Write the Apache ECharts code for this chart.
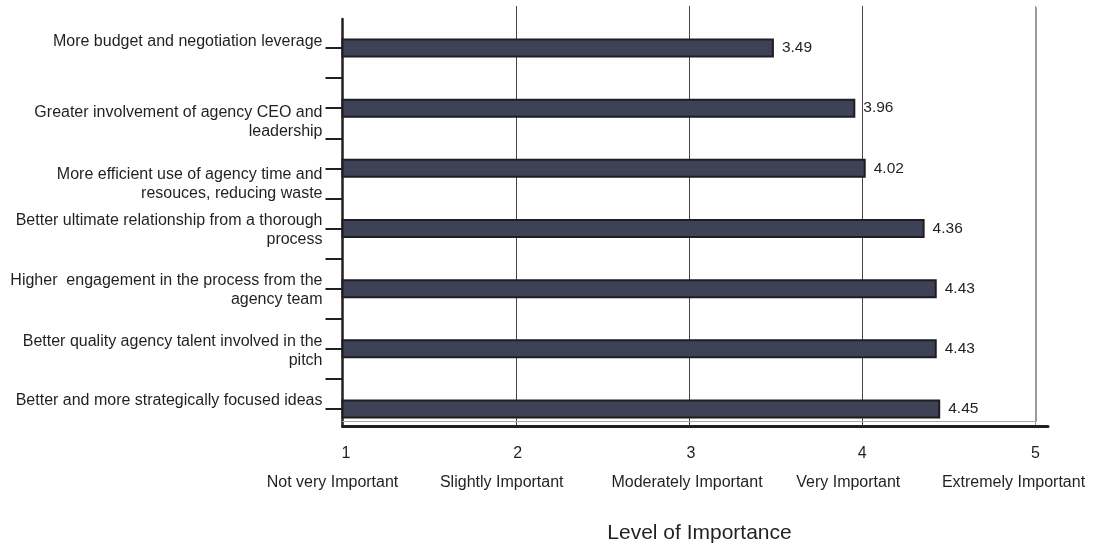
<!DOCTYPE html>
<html>
<head>
<meta charset="utf-8">
<script src="https://cdn.jsdelivr.net/npm/echarts@6/dist/echarts.min.js"></script>
<style>
  html, body { margin: 0; padding: 0; background: #ffffff; }
  #chart { width: 1097px; height: 546px; }
</style>
</head>
<body>
<div id="chart"></div>
<script>
// Survey items (top to bottom) and their mean importance scores
const categories = [
  'More budget and negotiation leverage',
  'Greater involvement of agency CEO and\nleadership',
  'More efficient use of agency time and\nresouces, reducing waste',
  'Better ultimate relationship from a thorough\nprocess',
  'Higher  engagement in the process from the\nagency team',
  'Better quality agency talent involved in the\npitch',
  'Better and more strategically focused ideas'
];
const scores = [3.49, 3.96, 4.02, 4.36, 4.43, 4.43, 4.45];

// Rating scale
const scaleTicks = [1, 2, 3, 4, 5];
const scaleLabels = ['Not very Important', 'Slightly Important', 'Moderately Important', 'Very Important', 'Extremely Important'];
const axisTitle = 'Level of Importance';

// ---- styling ----
const FONT = '"Liberation Sans", Arial, sans-serif';
const INK = '#231f20';
const BAR_FILL = '#3d4257';
const BAR_EDGE = '#1f1d20';

// vertical nudge of each item label block (px, + = down)
const itemLabelShift = [-6.5, 13.5, 16, 1.5, 1.5, 2.5, -8.5];
// horizontal nudges of the scale numbers / level names (px, + = right)
const numberShift = [3.5, 2, 2, 0, 0];
const levelShift = [-10, -14, -2, -14, -22];

const PX_LEFT = 342.5;
const UNIT = 173.25;               // pixels per scale point
const PLOT_W = UNIT * 4;           // 1 .. 5
const BASE_W = 705.5;              // base line runs a little past 5
const BASE_MAX = 1 + BASE_W / UNIT;

// half-category tick positions on the left axis
const BAND = 421 / categories.length;
const leftTickValues = [];
for (let k = 0; k <= (categories.length - 1) * 2; k++) leftTickValues.push(k / 2);
const leftMin = -(18 + BAND / 2 - 19) / BAND;
const leftMax = leftMin + 407 / BAND;

// rich styles: item label lines plus spacer lines that nudge a block up or down
const itemRich = {
  c: { fontSize: 16, lineHeight: 19, color: INK, fontFamily: FONT, align: 'right' }
};
itemLabelShift.forEach((s, i) => {
  itemRich['g' + i] = { fontSize: 1, lineHeight: Math.max(1, Math.abs(2 * s)), align: 'right' };
});
function itemLabel(value, index) {
  const body = String(value).split('\n').map(l => '{c|' + l + '}').join('\n');
  const s = itemLabelShift[index] || 0;
  if (s > 0) return '{g' + index + '| }\n' + body;
  if (s < 0) return body + '\n{g' + index + '| }';
  return body;
}

const scaleRich = {};
scaleTicks.forEach((t, i) => {
  const ns = numberShift[i], ls = levelShift[i];
  scaleRich['n' + i] = {
    fontSize: 16, lineHeight: 29, color: INK, fontFamily: FONT,
    padding: ns >= 0 ? [0, 0, 0, 2 * ns] : [0, -2 * ns, 0, 0]
  };
  scaleRich['t' + i] = {
    fontSize: 16, lineHeight: 29, color: INK, fontFamily: FONT,
    padding: ls <= 0 ? [0, -2 * ls, 0, 0] : [0, 0, 0, 2 * ls]
  };
});

const chart = echarts.init(document.getElementById('chart'), null, { renderer: 'canvas' });

chart.setOption({
  animation: false,
  backgroundColor: '#ffffff',
  textStyle: { fontFamily: FONT },
  grid: [
    // bars
    { left: PX_LEFT, top: 18, width: PLOT_W, height: 421, outerBoundsMode: 'none' },
    // base line, scale labels, vertical grid lines
    { left: PX_LEFT, top: 6, width: BASE_W, height: 420, outerBoundsMode: 'none' },
    // left axis with its ticks
    { left: PX_LEFT, top: 19, width: PLOT_W, height: 407, outerBoundsMode: 'none' },
    // thin rule above the base line and the right frame line
    { left: PX_LEFT, top: 8, width: PLOT_W, height: 413, outerBoundsMode: 'none' }
  ],
  xAxis: [
    { gridIndex: 0, type: 'value', min: 1, max: 5, show: false },
    {
      gridIndex: 1, type: 'value', min: 1, max: BASE_MAX, interval: 1,
      axisLine: { show: true, onZero: false, lineStyle: { color: INK, width: 3 } },
      axisTick: { show: false },
      splitLine: {
        show: true,
        lineStyle: { color: ['transparent', '#444444', '#444444', '#444444', '#999999', 'transparent'], width: 1 }
      },
      axisLabel: {
        show: true,
        margin: 13.5,
        hideOverlap: false,
        showMinLabel: true,
        showMaxLabel: true,
        formatter: function (v) {
          const i = scaleTicks.indexOf(v);
          if (i < 0) return '';
          return '{n' + i + '|' + v + '}\n{t' + i + '|' + scaleLabels[i] + '}';
        },
        rich: scaleRich
      },
      name: axisTitle,
      nameLocation: 'middle',
      nameGap: 97,
      nameTextStyle: { fontSize: 21, color: INK, fontFamily: FONT, padding: [0, 0, 0, 8.5] }
    },
    { gridIndex: 2, type: 'value', min: 1, max: 5, show: false },
    {
      gridIndex: 3, type: 'value', min: 1, max: 5,
      axisLine: { show: true, onZero: false, lineStyle: { color: '#a8a8a8', width: 1 } },
      axisTick: { show: false }, axisLabel: { show: false }, splitLine: { show: false }
    }
  ],
  yAxis: [
    {
      gridIndex: 0, type: 'category', inverse: true, data: categories,
      axisLine: { show: false }, axisTick: { show: false }, splitLine: { show: false },
      axisLabel: {
        interval: 0, margin: 20, fontSize: 16, lineHeight: 19,
        color: INK, fontFamily: FONT, align: 'right', hideOverlap: false,
        formatter: itemLabel,
        rich: itemRich
      }
    },
    { gridIndex: 1, type: 'value', show: false },
    {
      gridIndex: 2, type: 'value', inverse: true, min: leftMin, max: leftMax,
      axisLine: { show: true, onZero: false, lineStyle: { color: INK, width: 2.5 } },
      axisTick: {
        show: true, inside: false, length: 17, customValues: leftTickValues,
        lineStyle: { color: INK, width: 2 }
      },
      axisLabel: { show: false },
      splitLine: { show: false }
    },
    {
      gridIndex: 3, type: 'value', position: 'right',
      axisLine: { show: true, onZero: false, lineStyle: { color: '#999999', width: 2 } },
      axisTick: { show: false }, axisLabel: { show: false }, splitLine: { show: false }
    }
  ],
  series: [
    {
      type: 'bar',
      xAxisIndex: 0,
      yAxisIndex: 0,
      data: scores,
      barWidth: 19,
      clip: true,
      silent: true,
      itemStyle: { color: BAR_FILL, borderColor: BAR_EDGE, borderWidth: 2 },
      label: {
        show: true, position: 'right', distance: 8,
        color: INK, fontSize: 15.5, fontFamily: FONT
      }
    }
  ]
});
</script>
</body>
</html>
